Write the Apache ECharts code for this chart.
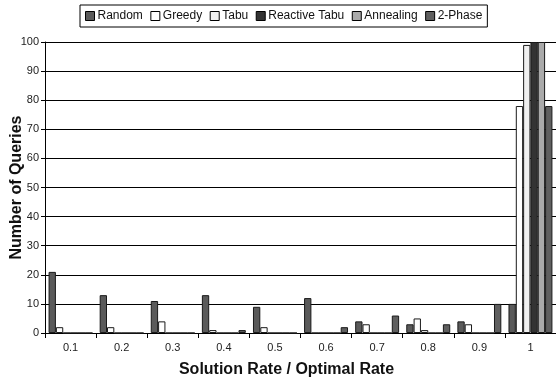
<!DOCTYPE html>
<html>
<head>
<meta charset="utf-8">
<script src="https://cdn.jsdelivr.net/npm/echarts@6/dist/echarts.min.js"></script>
<style>html,body{margin:0;padding:0;background:#fff}#c{width:556px;height:383px}</style>
</head>
<body>
<div id="c"></div>
<script>
var categories = ['0.1','0.2','0.3','0.4','0.5','0.6','0.7','0.8','0.9','1'];
var seriesNames = ['Random','Greedy','Tabu','Reactive Tabu','Annealing','2-Phase'];
var random     = [21, 13, 11, 13, 9, 12, 4, 3, 4, 10];
var greedy     = [2, 2, 4, 1, 2, 0, 3, 5, 3, 78];
var tabu       = [0, 0, 0, 0, 0, 0, 0, 1, 0, 99];
var reactive   = [0, 0, 0, 0, 0, 0, 0, 0, 0, 100];
var annealing  = [0, 0, 0, 0, 0, 0, 0, 0, 0, 100];
var twoPhase   = [0, 0, 0, 1, 0, 2, 6, 3, 10, 78];
var yTicks = [0,10,20,30,40,50,60,70,80,90,100];

var values = [random, greedy, tabu, reactive, annealing, twoPhase];
var colors = ['#5a5a5a', '#ffffff', '#f0f0f0', '#333333', '#aaaaaa', '#5f5f5f'];

var chart = echarts.init(document.getElementById('c'), null, {renderer: 'canvas'});
var series = seriesNames.map(function (n, i) {
  return {
    name: n,
    type: 'bar',
    data: values[i],
    barGap: '0%',
    barCategoryGap: '14%',
    itemStyle: {color: colors[i], borderColor: '#1a1a1a', borderWidth: 1},
    animation: false
  };
});
chart.setOption({
  animation: false,
  textStyle: {fontFamily: 'Liberation Sans, Arial, sans-serif'},
  legend: {
    top: 5, left: 80,
    padding: [5, 5, 5, 5],
    borderColor: '#000', borderWidth: 1,
    itemWidth: 9, itemHeight: 9, itemGap: 7.5,
    icon: 'rect',
    itemStyle: {borderColor: '#000', borderWidth: 1},
    textStyle: {fontSize: 12, color: '#111', padding: [0, 0, 0, -2]},
    data: seriesNames
  },
  grid: {left: 45, right: 0, top: 42, bottom: 50, containLabel: false, outerBoundsMode: 'none'},
  xAxis: {
    type: 'category',
    data: categories,
    name: 'Solution Rate / Optimal Rate',
    nameLocation: 'middle',
    nameGap: 29,
    nameMoveOverlap: false,
    nameTextStyle: {fontSize: 16, fontWeight: 'bold', color: '#111', padding: [0, 28, 0, 0]},
    axisLine: {lineStyle: {color: '#000', width: 1}},
    axisTick: {show: true, length: 5, lineStyle: {color: '#000'}},
    axisLabel: {fontSize: 11, color: '#222', margin: 9}
  },
  yAxis: {
    type: 'value',
    min: 0, max: 100, interval: 10,
    name: 'Number of Queries',
    nameLocation: 'middle',
    nameGap: 20,
    nameMoveOverlap: false,
    nameTextStyle: {fontSize: 16, fontWeight: 'bold', color: '#111'},
    axisLine: {show: true, lineStyle: {color: '#000', width: 1}},
    axisTick: {show: true, length: 4, lineStyle: {color: '#000'}},
    axisLabel: {fontSize: 11, color: '#222', margin: 6,
      formatter: function (v) { return yTicks.indexOf(v) >= 0 ? String(v) : ''; }},
    splitLine: {show: true, lineStyle: {color: '#000', width: 1}}
  },
  series: series
});
</script>
</body>
</html>
